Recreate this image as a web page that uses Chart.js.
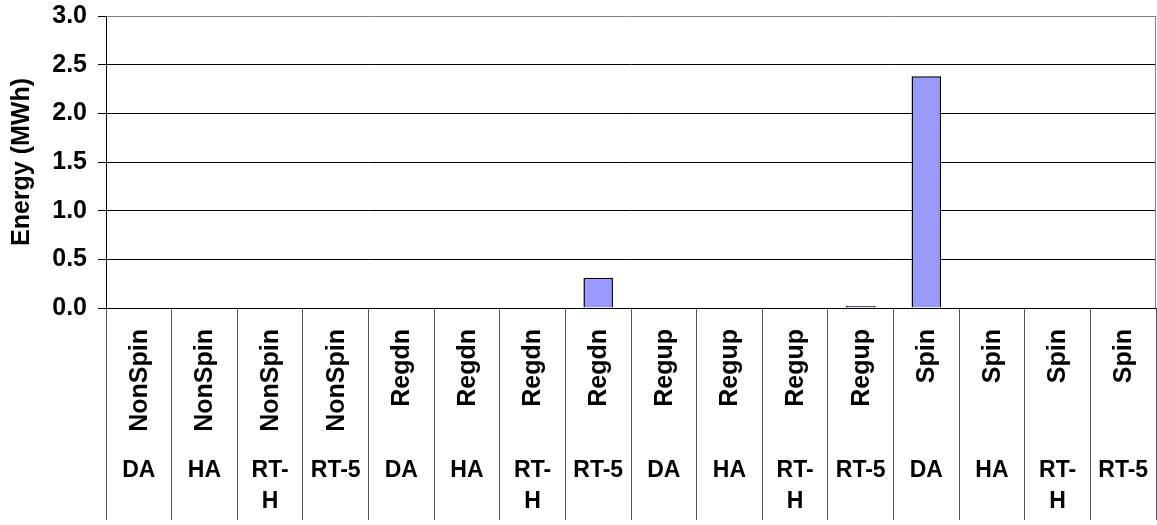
<!DOCTYPE html>
<html>
<head>
<meta charset="utf-8">
<script src="https://cdn.jsdelivr.net/npm/chart.js@4/dist/chart.umd.min.js"></script>
<style>
  html, body { margin: 0; padding: 0; background: #fff; }
  #wrap { width: 1157px; height: 525px; position: relative; }
</style>
</head>
<body>
<div id="wrap"><canvas id="energyChart"></canvas></div>
<script>
// data
const services = ['NonSpin', 'NonSpin', 'NonSpin', 'NonSpin',
                  'Regdn', 'Regdn', 'Regdn', 'Regdn',
                  'Regup', 'Regup', 'Regup', 'Regup',
                  'Spin', 'Spin', 'Spin', 'Spin'];
const markets = ['DA', 'HA', ['RT-', 'H'], 'RT-5',
                 'DA', 'HA', ['RT-', 'H'], 'RT-5',
                 'DA', 'HA', ['RT-', 'H'], 'RT-5',
                 'DA', 'HA', ['RT-', 'H'], 'RT-5'];
const energy = [0, 0, 0, 0,
                0, 0, 0, 0.31,
                0, 0, 0, 0.02,
                2.38, 0, 0, 0];
const yTicks = [0, 0.5, 1.0, 1.5, 2.0, 2.5, 3.0];

const FONT = "'Liberation Sans', Arial, sans-serif";

// draws the two-row category table under the plot
const categoryTable = {
    id: 'categoryTable',
    afterDraw(chart) {
        const ctx = chart.ctx;
        const xs = chart.scales.x;
        const area = chart.chartArea;
        ctx.save();
        ctx.fillStyle = '#000';

        services.forEach((name, i) => {
            const cx = xs.getPixelForValue(i);
            // rotated service name, its end at the top of the cell
            ctx.save();
            ctx.font = 'bold 25px ' + FONT;
            ctx.translate(cx, area.bottom + 21);
            ctx.rotate(-Math.PI / 2);
            ctx.textAlign = 'right';
            ctx.textBaseline = 'middle';
            ctx.fillText(name, 0, 1);
            ctx.restore();

            // market label, can be two lines
            const lines = [].concat(markets[i]);
            ctx.font = 'bold 23px ' + FONT;
            ctx.textAlign = 'center';
            ctx.textBaseline = 'middle';
            lines.forEach((line, k) => {
                ctx.fillText(line, cx, area.bottom + 163 + k * 31);
            });
        });

        // grey plot border on the right
        ctx.strokeStyle = '#808080';
        ctx.lineWidth = 1;
        ctx.beginPath();
        ctx.moveTo(area.right - 0.5, area.top);
        ctx.lineTo(area.right - 0.5, area.bottom);
        ctx.stroke();
        ctx.restore();
    }
};

new Chart(document.getElementById('energyChart'), {
    type: 'bar',
    data: {
        labels: services.map((s, i) => s + ' ' + [].concat(markets[i]).join('')),
        datasets: [{
            data: energy,
            backgroundColor: '#9999FF',
            borderColor: '#000',
            borderWidth: ctx => (ctx.raw === 0 ? 0 : 1.5),
            borderSkipped: 'bottom',
            categoryPercentage: 1,
            barPercentage: 0.45
        }]
    },
    options: {
        responsive: true,
        maintainAspectRatio: false,
        animation: false,
        layout: { padding: { top: 16, right: 1, left: 0, bottom: 0 } },
        plugins: {
            legend: { display: false },
            tooltip: { enabled: false }
        },
        scales: {
            x: {
                offset: true,
                ticks: { display: false },
                grid: {
                    offset: true,
                    drawOnChartArea: false,
                    drawTicks: true,
                    tickLength: 212,
                    tickColor: '#555',
                    tickWidth: 1
                },
                border: { color: '#000', width: 1 },
                afterFit: scale => {
                    scale.height = 217;
                    scale.paddingLeft = 0;
                    scale.paddingRight = 0;
                }
            },
            y: {
                min: 0,
                max: 3,
                afterBuildTicks: scale => {
                    scale.ticks = yTicks.map(v => ({ value: v }));
                },
                ticks: {
                    padding: 11,
                    color: '#000',
                    font: { family: FONT, size: 25, weight: 'bold' },
                    callback: v => Number(v).toFixed(1)
                },
                grid: {
                    color: ctx => (ctx.tick && ctx.tick.value === 3 ? '#808080' : '#000'),
                    lineWidth: 1,
                    tickLength: 8,
                    tickColor: '#000'
                },
                border: { color: '#000', width: 1 },
                title: {
                    display: true,
                    text: 'Energy (MWh)',
                    color: '#000',
                    font: { family: FONT, size: 25, weight: 'bold' },
                    padding: { top: 7, bottom: 0 }
                },
                afterFit: scale => {
                    scale.width = 106;
                    scale.paddingTop = 0;
                    scale.paddingBottom = 0;
                }
            }
        }
    },
    plugins: [categoryTable]
});
</script>
</body>
</html>
